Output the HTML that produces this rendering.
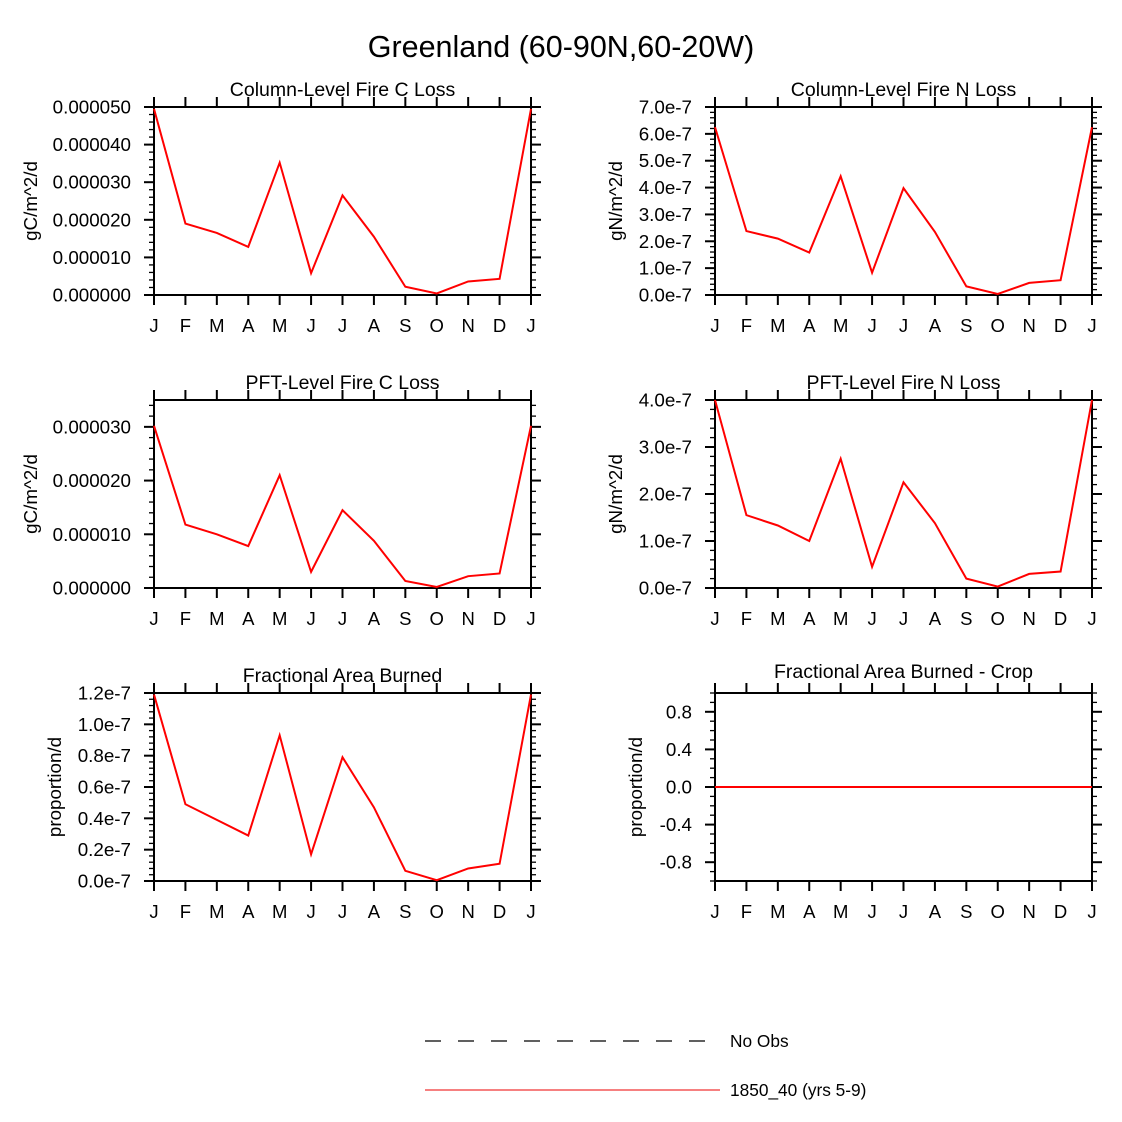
<!DOCTYPE html>
<html><head><meta charset="utf-8"><style>
body{margin:0;background:#fff}
svg{display:block;font-family:"Liberation Sans",Arial,sans-serif}
</style></head><body>
<svg id="chart" width="1122" height="1122" viewBox="0 0 1122 1122">
<text x="561" y="57" font-size="30.5" text-anchor="middle">Greenland (60-90N,60-20W)</text>
<g>
<line x1="425" y1="1041" x2="710" y2="1041" stroke="#000" stroke-width="1.2" stroke-dasharray="16,17"/>
<text x="730" y="1047" font-size="17.3">No Obs</text>
<line x1="425" y1="1090" x2="720" y2="1090" stroke="#e00" stroke-width="1"/>
<text x="730" y="1096" font-size="17.3">1850_40 (yrs 5-9)</text>
</g>
</svg>
<script>
const months = ["J","F","M","A","M","J","J","A","S","O","N","D","J"];
const colC = [4.95e-5,1.9e-5,1.65e-5,1.28e-5,3.52e-5,0.58e-5,2.65e-5,1.55e-5,0.22e-5,0.04e-5,0.36e-5,0.43e-5,4.95e-5];
const colN = [6.25e-7,2.38e-7,2.1e-7,1.58e-7,4.42e-7,0.83e-7,3.98e-7,2.35e-7,0.32e-7,0.04e-7,0.45e-7,0.55e-7,6.25e-7];
const pftC = [3.02e-5,1.18e-5,1.0e-5,0.78e-5,2.1e-5,0.3e-5,1.45e-5,0.88e-5,0.13e-5,0.02e-5,0.22e-5,0.27e-5,3.02e-5];
const pftN = [4.0e-7,1.55e-7,1.33e-7,1.0e-7,2.75e-7,0.45e-7,2.25e-7,1.38e-7,0.2e-7,0.03e-7,0.3e-7,0.35e-7,4.0e-7];
const fracA = [1.19e-7,0.49e-7,0.39e-7,0.29e-7,0.93e-7,0.17e-7,0.79e-7,0.47e-7,0.065e-7,0.005e-7,0.08e-7,0.11e-7,1.19e-7];
const cropA = [0,0,0,0,0,0,0,0,0,0,0,0,0];
const ticksColC = ["0.000000","0.000010","0.000020","0.000030","0.000040","0.000050"];
const ticksColN = ["0.0e-7","1.0e-7","2.0e-7","3.0e-7","4.0e-7","5.0e-7","6.0e-7","7.0e-7"];
const ticksPftC = ["0.000000","0.000010","0.000020","0.000030"];
const ticksPftN = ["0.0e-7","1.0e-7","2.0e-7","3.0e-7","4.0e-7"];
const ticksFrac = ["0.0e-7","0.2e-7","0.4e-7","0.6e-7","0.8e-7","1.0e-7","1.2e-7"];
const ticksCrop = ["-0.8","-0.4","0.0","0.4","0.8"];

const NS="http://www.w3.org/2000/svg";
const svg=document.getElementById('chart');
function mk(tag,attrs,parent){const e=document.createElementNS(NS,tag);for(const k in attrs)e.setAttribute(k,attrs[k]);parent.appendChild(e);return e;}

const panels=[
 {name:"column-fire-c-loss",title:"Column-Level Fire C Loss",yl:"gC/m^2/d",x:154,y:107,data:colC,ymin:0,ymax:5e-5,t0:0,dt:1e-5,labels:ticksColC,minor:5,ty:96,lo:-117},
 {name:"column-fire-n-loss",title:"Column-Level Fire N Loss",yl:"gN/m^2/d",x:715,y:107,data:colN,ymin:0,ymax:7e-7,t0:0,dt:1e-7,labels:ticksColN,minor:5,ty:96,lo:-93},
 {name:"pft-fire-c-loss",title:"PFT-Level Fire C Loss",yl:"gC/m^2/d",x:154,y:400,data:pftC,ymin:0,ymax:3.5e-5,t0:0,dt:1e-5,labels:ticksPftC,minor:5,ty:389,lo:-117},
 {name:"pft-fire-n-loss",title:"PFT-Level Fire N Loss",yl:"gN/m^2/d",x:715,y:400,data:pftN,ymin:0,ymax:4e-7,t0:0,dt:1e-7,labels:ticksPftN,minor:5,ty:389,lo:-93},
 {name:"fractional-area-burned",title:"Fractional Area Burned",yl:"proportion/d",x:154,y:693,data:fracA,ymin:0,ymax:1.2e-7,t0:0,dt:0.2e-7,labels:ticksFrac,minor:5,ty:682,lo:-93},
 {name:"fractional-area-burned-crop",title:"Fractional Area Burned - Crop",yl:"proportion/d",x:715,y:693,data:cropA,ymin:-1,ymax:1,t0:-0.8,dt:0.4,labels:ticksCrop,minor:4,ty:678,lo:-73}
];
const W=377,H=188;
panels.forEach(p=>{
 const g=mk('g',{},svg);
 
 
 const xs=i=>p.x+i*W/12;
 const ys=v=>p.y+H-(v-p.ymin)/(p.ymax-p.ymin)*H;
 months.forEach((m,i)=>{
  const X=xs(i);
  mk('line',{x1:X,y1:p.y,x2:X,y2:p.y-10,stroke:'#000','stroke-width':2},g);
  mk('line',{x1:X,y1:p.y+H,x2:X,y2:p.y+H+10,stroke:'#000','stroke-width':2},g);
  const t=mk('text',{x:X,y:p.y+H+37,'font-size':18.5,'text-anchor':'middle'},g);t.textContent=m;
  
  
 });
 const step=p.dt/p.minor;
 for(let v=p.ymin;v<=p.ymax+1e-20;v+=step){
  const Y=ys(v);
  mk('line',{x1:p.x,y1:Y,x2:p.x-5,y2:Y,stroke:'#000','stroke-width':1.3},g);
  mk('line',{x1:p.x+W,y1:Y,x2:p.x+W+5,y2:Y,stroke:'#000','stroke-width':1.3},g);
 }
 p.labels.forEach((lab,i)=>{
  const Y=ys(p.t0+i*p.dt);
  mk('line',{x1:p.x,y1:Y,x2:p.x-10,y2:Y,stroke:'#000','stroke-width':2},g);
  mk('line',{x1:p.x+W,y1:Y,x2:p.x+W+10,y2:Y,stroke:'#000','stroke-width':2},g);
  const t=mk('text',{x:p.x-23,y:Y+6.5,'font-size':18.8,'text-anchor':'end'},g);t.textContent=lab;
  
  
 });
 mk('rect',{x:p.x,y:p.y,width:W,height:H,fill:'none',stroke:'#000','stroke-width':2},g);
 const pts=p.data.map((v,i)=>xs(i)+','+ys(v)).join(' ');
 const pl=mk('polyline',{points:pts,fill:'none',stroke:'#f00','stroke-width':2},g);
 
 
 const tt=mk('text',{x:p.x+W/2,y:p.ty,'font-size':19.5,'text-anchor':'middle'},g);tt.textContent=p.title;
 
 
 const lx=p.x+p.lo;
 const yl=mk('text',{x:lx,y:p.y+H/2,'font-size':18.8,'text-anchor':'middle',transform:`rotate(-90 ${lx} ${p.y+H/2})`},g);yl.textContent=p.yl;
 
 
});
</script>
</body></html>
